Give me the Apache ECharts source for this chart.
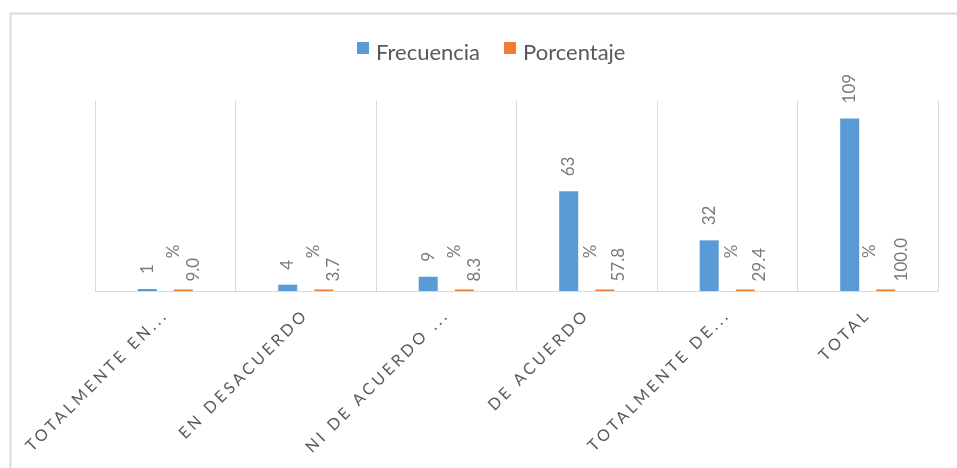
<!DOCTYPE html>
<html>
<head>
<meta charset="utf-8">
<script src="https://cdn.jsdelivr.net/npm/echarts@6/dist/echarts.min.js"></script>
<style>
html,body{margin:0;padding:0;background:#fff;}
#chart{width:957px;height:468px;}
</style>
</head>
<body>
<div id="chart"></div>
<script>
const categories = ['TOTALMENTE EN...', 'EN DESACUERDO', 'NI DE ACUERDO ...', 'DE ACUERDO', 'TOTALMENTE DE...', 'TOTAL'];
const frecuencia = [1, 4, 9, 63, 32, 109];
const porcentaje = [0.090, 0.037, 0.083, 0.578, 0.294, 1.000];
const seriesNames = ['Frecuencia', 'Porcentaje'];

// letter spacing only for category labels (Excel-style spaced caps)
const spaced = new Set(categories);
const origFill = CanvasRenderingContext2D.prototype.fillText;
CanvasRenderingContext2D.prototype.fillText = function (t, x, y, w) {
  if (spaced.has(t) && 'letterSpacing' in this) {
    this.save();
    const f = this.font;
    this.font = '10px sans-serif';
    this.letterSpacing = '3.3px';
    this.font = f;
    const r = w === undefined ? origFill.call(this, t, x, y) : origFill.call(this, t, x, y, w);
    this.restore();
    const f2 = this.font;
    this.font = '10px sans-serif';
    this.letterSpacing = '0px';
    this.font = f2;
    return r;
  }
  return w === undefined ? origFill.call(this, t, x, y) : origFill.call(this, t, x, y, w);
};

const chart = echarts.init(document.getElementById('chart'), null, {renderer: 'canvas'});

const pctRich = {};
[3, 4, 5].forEach(function (n) {
  const lh = {3: 20, 4: 28, 5: 32}[n];
  pctRich['a' + n] = {lineHeight: lh, align: 'right', fontSize: 17, color: '#7a7a7a', fontFamily: 'Lato'};
  pctRich['b' + n] = {lineHeight: lh, align: 'left', fontSize: 17, color: '#7a7a7a', fontFamily: 'Lato'};
});

const option = {
  animation: false,
  backgroundColor: '#ffffff',
  graphic: [{
    type: 'rect', left: 8, top: 11, z: -10, silent: true,
    shape: {width: 1000, height: 500},
    style: {fill: 'none', stroke: '#d9d9d9', lineWidth: 2}
  }],
  legend: {
    data: seriesNames,
    left: 357, top: 42, padding: 0,
    icon: 'rect', itemWidth: 12, itemHeight: 12, itemGap: 24,
    formatter: '{t|{name}}',
    textStyle: {
      fontSize: 22, color: '#595959', fontFamily: 'Lato',
      rich: {t: {fontSize: 22, color: '#595959', fontFamily: 'Lato', padding: [10, 0, 0, 2]}}
    }
  },
  grid: {left: 95, right: 19, top: 101, bottom: 177},
  xAxis: {
    type: 'category',
    data: categories,
    axisLine: {lineStyle: {color: '#d9d9d9', width: 1}},
    axisTick: {show: false},
    splitLine: {show: true, lineStyle: {color: '#d9d9d9', width: 1}},
    axisLabel: {
      interval: 0, rotate: 45, margin: 21,
      fontSize: 16, color: '#595959', fontFamily: 'Lato'
    }
  },
  yAxis: {
    type: 'value', min: 0, max: 120,
    show: false,
    splitLine: {show: false}
  },
  series: [{
    name: seriesNames[0],
    type: 'bar',
    data: frecuencia,
    barWidth: 19,
    barGap: '90%',
    barMinHeight: 2,
    itemStyle: {color: '#5B9BD5'},
    label: {
      show: true, position: 'top', distance: 15,
      rotate: 90, align: 'left', verticalAlign: 'middle',
      fontSize: 17, color: '#7a7a7a', fontFamily: 'Lato'
    }
  }, {
    name: seriesNames[1],
    type: 'bar',
    data: porcentaje,
    barWidth: 19,
    barMinHeight: 1.5,
    itemStyle: {color: '#ED7D31'},
    label: {
      show: true, position: 'top', distance: 8,
      rotate: 90, align: 'left', verticalAlign: 'middle',
      width: 37,
      formatter: function (p) {
        const s = (p.value * 100).toFixed(1);
        const n = Math.min(5, Math.max(3, s.length));
        return '{a' + n + '|%}\n{b' + n + '|' + s + '}';
      },
      rich: pctRich
    }
  }]
};
chart.setOption(option);
</script>
</body>
</html>
